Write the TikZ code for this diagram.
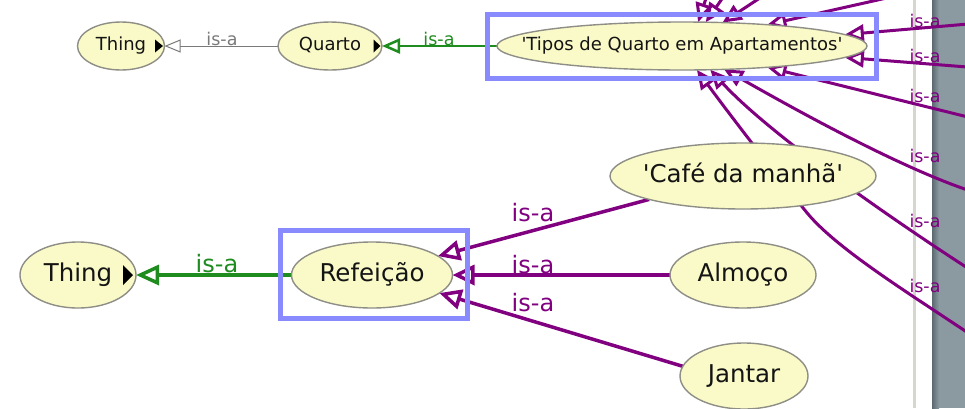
\documentclass[tikz,border=0pt]{standalone}
\usepackage{fontspec}
\newfontfamily\df{DejaVu Sans}
\usetikzlibrary{shapes.geometric,arrows.meta,backgrounds}
\definecolor{nodefill}{HTML}{FAFAC8}
\definecolor{nodeline}{HTML}{8E8E86}
\definecolor{isapurple}{HTML}{800080}
\definecolor{isagreen}{HTML}{1E8C1E}
\definecolor{isagray}{HTML}{7A7A7A}
\definecolor{selblue}{HTML}{8A8AFF}
\definecolor{barcol}{HTML}{8B9AA1}
\definecolor{bardark}{HTML}{5C6A70}
\definecolor{sepcol}{HTML}{D6D6CE}
\definecolor{txt}{HTML}{141414}
\newcommand{\zbox}[1]{\makebox[0pt]{\vphantom{Tg}\smash{#1}}}
\tikzset{
 concept/.style={ellipse, draw=nodeline, line width=1.4pt, fill=nodefill, inner sep=0pt, outer sep=0pt, text=txt},
 topconcept/.style={concept, minimum height=48pt, font=\df\fontsize{18}{20}\selectfont},
 botconcept/.style={concept, minimum height=66pt, font=\df\fontsize{24.5}{26}\selectfont},
 toppurple/.style={draw=isapurple, line width=3pt, -{Triangle[open, length=19pt, width=17pt]}},
 botpurple/.style={draw=isapurple, line width=3.5pt, -{Triangle[open, length=22pt, width=20pt]}},
 topgreen/.style={draw=isagreen, line width=2.5pt, -{Triangle[open, length=18pt, width=15pt]}},
 botgreen/.style={draw=isagreen, line width=3.5pt, -{Triangle[open, length=23pt, width=20pt]}},
 topgray/.style={draw=isagray, line width=1pt, -{Triangle[open, length=16pt, width=13pt]}},
 smalllabel/.style={inner sep=0pt, font=\df\fontsize{17.5}{18}\selectfont},
 biglabel/.style={inner sep=0pt, font=\df\fontsize{24}{26}\selectfont},
 selbox/.style={draw=selblue, line width=5pt},
}
\begin{document}
\begin{tikzpicture}[x=1pt,y=-1pt]
\useasboundingbox (0,0) rectangle (965,408);
% concepts
\node[topconcept, minimum width=87pt] (thingA) at (121,46) {\zbox{Thing}};
\node[topconcept, minimum width=104pt] (quarto) at (330,46) {\zbox{Quarto}};
\node[topconcept, minimum width=370pt] (tipos) at (682,46) {\zbox{'Tipos de Quarto em Apartamentos'}};
\node[botconcept, minimum width=116pt] (thingB) at (78,275) {\zbox{Thing}};
\node[botconcept, minimum width=161pt] (refeicao) at (372,275) {\zbox{Refeição}};
\node[botconcept, minimum width=266pt] (cafe) at (743,176) {\zbox{'Café da manhã'}};
\node[botconcept, minimum width=146pt] (almoco) at (743,275) {\zbox{Almoço}};
\node[botconcept, minimum width=128pt] (jantar) at (744,376) {\zbox{Jantar}};
% free ends off the canvas
\coordinate (t1) at (712,-20);
\coordinate (t2) at (735,-20);
\coordinate (t3) at (775,-12);
\coordinate (t4) at (900,-5);
\coordinate (r1) at (980,23);
\coordinate (r2) at (980,68);
\coordinate (r3) at (980,120);
\coordinate (r4) at (980,194);
\coordinate (r5) at (980,276);
\coordinate (r6) at (980,341);
\begin{scope}[on background layer]
\fill[white] (0,0) rectangle (965,408);
\fill[barcol] (932,0) rectangle (965,408);
\shade[left color=bardark, right color=barcol] (932,0) rectangle (939,408);
\draw[sepcol, line width=3pt] (914,0) -- (914,408);
\draw[topgray] (quarto.west) -- (thingA.east);
\draw[topgreen] (tipos.west) -- (quarto.east);
\draw[botgreen] (refeicao.west) -- (thingB.east);
\draw[botpurple] (cafe.194) -- (refeicao.16);
\draw[botpurple] (almoco.west) -- (refeicao.east);
\draw[botpurple] (jantar.171) -- (refeicao.-15);
\draw[toppurple] (t1) -- (tipos.56);
\draw[toppurple] (t2) -- (tipos.45);
\draw[toppurple] (t3) -- (tipos.30);
\draw[toppurple] (t4) -- (tipos.14);
\draw[toppurple] (r1) -- (tipos.4.5);
\draw[toppurple] (r2) -- (tipos.-4.5);
\draw[toppurple] (r3) -- (tipos.-14);
\draw[toppurple] (r4) .. controls (900,170) and (770,95) .. (tipos.-29);
\draw[toppurple] (r5) .. controls (900,225) and (770,135) .. (tipos.-40);
\draw[toppurple] (r6) .. controls (920,300) and (840,252) .. (808,214) .. controls (780,180) and (730,115) .. (tipos.-58);
\end{scope}
% small black triangles
\fill[black] (thingA.east) ++(-1.5,0) -- ++(-8,-6.5) -- ++(0,13) -- cycle;
\fill[black] (quarto.east) ++(-1.5,0) -- ++(-7,-6.5) -- ++(0,13) -- cycle;
\fill[black] (thingB.east) ++(-3,0) -- ++(-10,-10) -- ++(0,20) -- cycle;
% labels
\node[smalllabel, text=isagray] (lblA) at (222,39) {is-a};
\node[smalllabel, text=isagreen] (lblB) at (439,39) {is-a};
\node[biglabel, text=isagreen] (lblC) at (217,264) {is-a};
\node[biglabel, text=isapurple] (lblD) at (533,213) {is-a};
\node[biglabel, text=isapurple] (lblE) at (533,265) {is-a};
\node[biglabel, text=isapurple] (lblF) at (533,303) {is-a};
\node[smalllabel, text=isapurple] (lblR1) at (925,21) {is-a};
\node[smalllabel, text=isapurple] (lblR2) at (925,56) {is-a};
\node[smalllabel, text=isapurple] (lblR3) at (925,96) {is-a};
\node[smalllabel, text=isapurple] (lblR4) at (925,156) {is-a};
\node[smalllabel, text=isapurple] (lblR5) at (925,221) {is-a};
\node[smalllabel, text=isapurple] (lblR6) at (925,286) {is-a};
% selection boxes
\draw[selbox] (487,14) rectangle (876,78);
\draw[selbox] (280,230) rectangle (467,318);
\end{tikzpicture}
\end{document}
